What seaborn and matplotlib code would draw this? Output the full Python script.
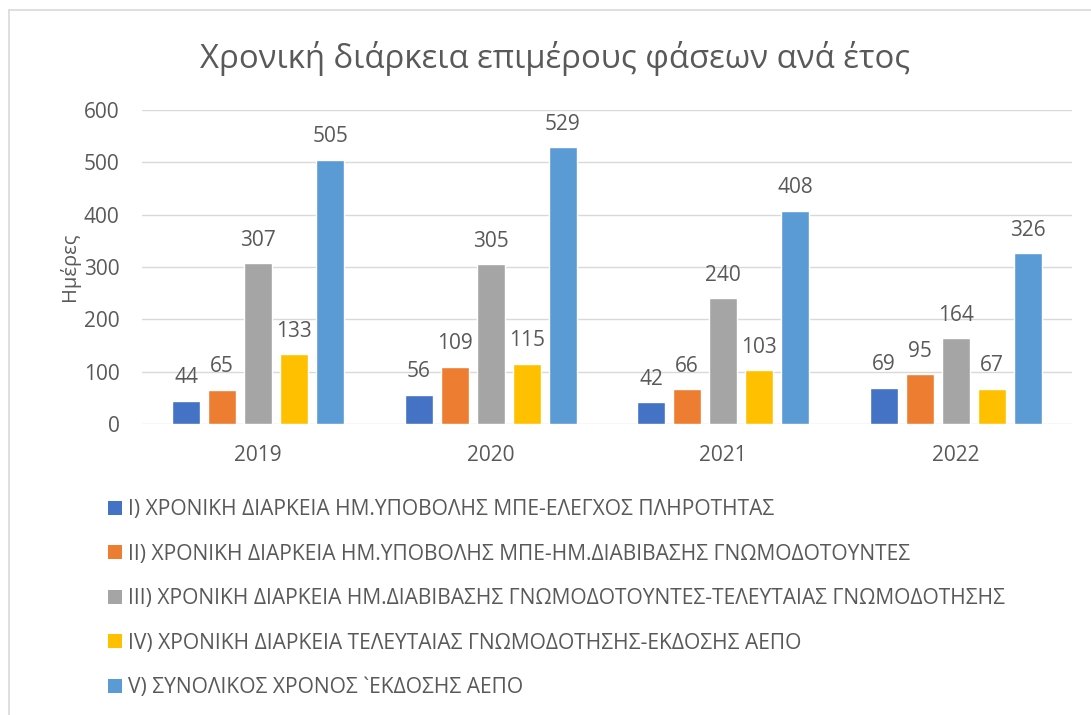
import matplotlib
matplotlib.use("Agg")
import matplotlib.pyplot as plt
import seaborn as sns
import pandas as pd
from matplotlib.patches import Patch
from matplotlib.lines import Line2D

years = ["2019", "2020", "2021", "2022"]
series = [
    "I) ΧΡΟΝΙΚΗ ΔΙΑΡΚΕΙΑ ΗΜ.ΥΠΟΒΟΛΗΣ ΜΠΕ-ΕΛΕΓΧΟΣ ΠΛΗΡΟΤΗΤΑΣ",
    "II) ΧΡΟΝΙΚΗ ΔΙΑΡΚΕΙΑ ΗΜ.ΥΠΟΒΟΛΗΣ ΜΠΕ-ΗΜ.ΔΙΑΒΙΒΑΣΗΣ ΓΝΩΜΟΔΟΤΟΥΝΤΕΣ",
    "III) ΧΡΟΝΙΚΗ ΔΙΑΡΚΕΙΑ ΗΜ.ΔΙΑΒΙΒΑΣΗΣ ΓΝΩΜΟΔΟΤΟΥΝΤΕΣ-ΤΕΛΕΥΤΑΙΑΣ ΓΝΩΜΟΔΟΤΗΣΗΣ",
    "IV) ΧΡΟΝΙΚΗ ΔΙΑΡΚΕΙΑ ΤΕΛΕΥΤΑΙΑΣ ΓΝΩΜΟΔΟΤΗΣΗΣ-ΕΚΔΟΣΗΣ ΑΕΠΟ",
    "V) ΣΥΝΟΛΙΚΟΣ ΧΡΟΝΟΣ `ΕΚΔΟΣΗΣ ΑΕΠΟ",
]
s1 = [44, 56, 42, 69]
s2 = [65, 109, 66, 95]
s3 = [307, 305, 240, 164]
s4 = [133, 115, 103, 67]
s5 = [505, 529, 408, 326]
colors = ["#4472C4", "#ED7D31", "#A5A5A5", "#FFC000", "#5B9BD5"]

all_vals = [s1, s2, s3, s4, s5]
rows = []
for name, vals in zip(series, all_vals):
    for y, v in zip(years, vals):
        rows.append({"year": y, "series": name, "value": v})
df = pd.DataFrame(rows)

sns.set_theme(style="white")
plt.rcParams["font.family"] = ["Open Sans", "DejaVu Sans"]
txt = "#595959"

fig = plt.figure(figsize=(10.91, 7.15), dpi=100)
ax = fig.add_axes([0.130, 0.407, 0.8526, 0.439])

sns.barplot(data=df, x="year", y="value", hue="series", palette=colors,
            width=0.774, gap=0.22, ax=ax, legend=False, saturation=1)

ax.set_ylim(0, 600)
ax.set_yticks(range(0, 601, 100))
ax.yaxis.grid(True, color="#D9D9D9", linewidth=1)
ax.set_axisbelow(True)
for sp in ax.spines.values():
    sp.set_visible(False)
ax.tick_params(axis="both", length=0, labelsize=15, labelcolor=txt)
ax.tick_params(axis="x", pad=15)
ax.tick_params(axis="y", pad=16)
ax.set_xlabel("")
ax.set_ylabel("Ημέρες", fontsize=14.5, color=txt, labelpad=3)

for cont in ax.containers:
    ax.bar_label(cont, fmt="%d", padding=9, fontsize=15, color=txt)

fig.text(0.509, 0.918, "Χρονική διάρκεια επιμέρους φάσεων ανά έτος",
         ha="center", va="center", fontsize=23.7, color=txt)

handles = [Patch(facecolor=c, edgecolor="none") for c in colors]
fig.legend(handles, series, loc="upper left", bbox_to_anchor=(0.099, 0.302),
           frameon=False, fontsize=15.1, labelcolor=txt, labelspacing=1.12,
           handlelength=0.65, handleheight=0.65, handletextpad=0.3,
           borderpad=0, borderaxespad=0)

# chart border (left and top visible)
fig.add_artist(Line2D([0.0085, 0.0085], [0.0, 0.986], transform=fig.transFigure,
                      color="#D9D9D9", linewidth=1.2))
fig.add_artist(Line2D([0.0085, 1.0], [0.986, 0.986], transform=fig.transFigure,
                      color="#D9D9D9", linewidth=1.2))

fig.savefig("out.png", dpi=100, facecolor="white")
